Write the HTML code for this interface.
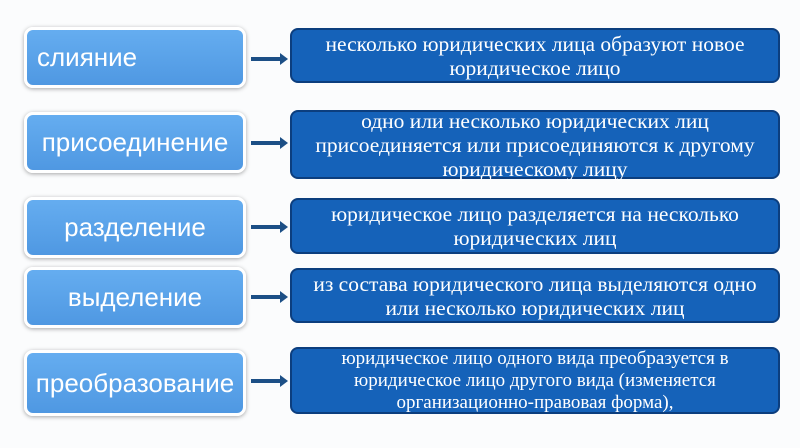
<!DOCTYPE html>
<html><head><meta charset="utf-8"><style>
body{margin:0;width:800px;height:448px;background:#fbfcfd;position:relative;overflow:hidden;font-family:"Liberation Sans",sans-serif}
.l{position:absolute;left:24px;width:222px;border:3px solid #fff;border-radius:9px;box-shadow:0 1px 4px rgba(0,0,0,.35);background:linear-gradient(#65adf0,#4f98e2);color:#fff;font-size:26px;display:flex;align-items:center;padding-left:10px;box-sizing:border-box;white-space:nowrap}
.r{position:absolute;left:290px;width:490px;border:2px solid #0c3e7e;border-radius:8px;background:#1562b9;color:#fff;font-family:"Liberation Serif",serif;font-size:21.5px;line-height:24px;text-align:center;display:flex;align-items:center;justify-content:center;box-sizing:border-box;padding:0 4px;white-space:nowrap}
.a{position:absolute;left:251px;width:30px;height:4px;background:#1c4f86}
.a:after{content:"";position:absolute;right:-7px;top:-4px;border-left:8px solid #1c4f86;border-top:6px solid transparent;border-bottom:6px solid transparent}
</style></head><body>
<div class="l" style="top:27px;height:61px">слияние</div>
<div class="a" style="top:57px"></div>
<div class="r" style="top:28px;height:55px;align-items:flex-start;padding-top:2px">несколько юридических лица образуют новое<br>юридическое лицо</div>

<div class="l" style="top:112px;height:61px;justify-content:center;padding-left:0">присоединение</div>
<div class="a" style="top:141px"></div>
<div class="r" style="top:110px;height:69px">одно или несколько юридических лиц<br>присоединяется или присоединяются к другому<br>юридическому лицу</div>

<div class="l" style="top:197px;height:61px;justify-content:center;padding-left:0">разделение</div>
<div class="a" style="top:225px"></div>
<div class="r" style="top:198px;height:56px">юридическое лицо разделяется на несколько<br>юридических лиц</div>

<div class="l" style="top:267px;height:61px;justify-content:center;padding-left:0">выделение</div>
<div class="a" style="top:295px"></div>
<div class="r" style="top:268px;height:55px">из состава юридического лица выделяются одно<br>или несколько юридических лиц</div>

<div class="l" style="top:350px;height:66px;justify-content:center;padding-left:0">преобразование</div>
<div class="a" style="top:379px"></div>
<div class="r" style="top:347px;height:67px;font-size:19px;line-height:22px">юридическое лицо одного вида преобразуется в<br>юридическое лицо другого вида (изменяется<br>организационно-правовая форма),</div>
</body></html>
